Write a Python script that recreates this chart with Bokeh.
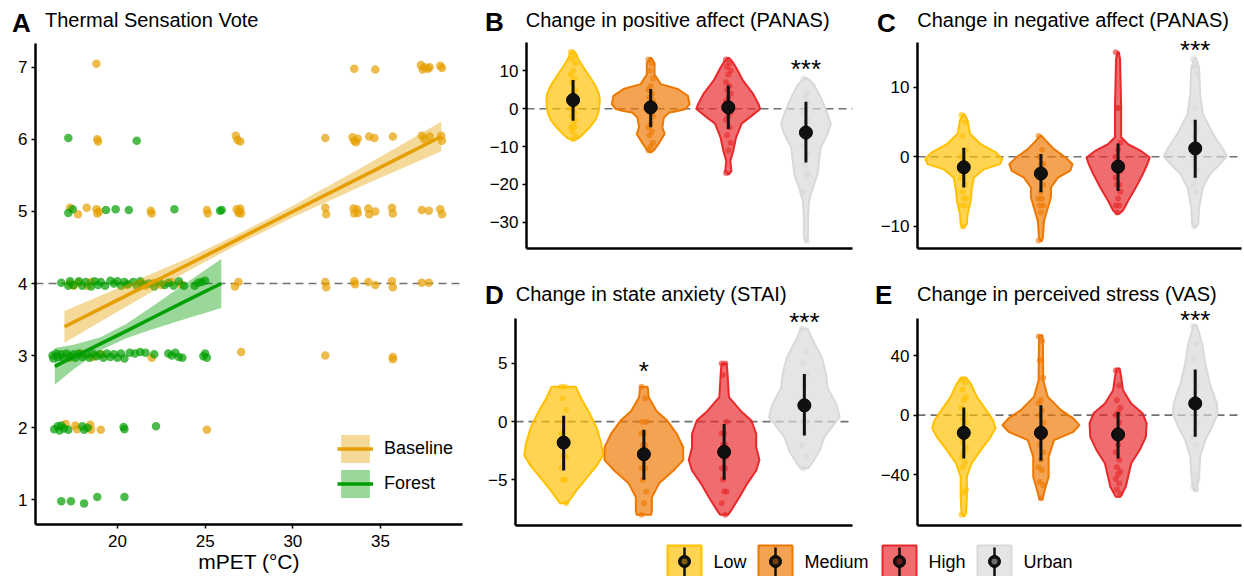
from bokeh.plotting import figure
from bokeh.layouts import row, column
from bokeh.models import Range1d, Span, Label, FixedTicker, Legend, LegendItem, Div
from bokeh.core.properties import value
from bokeh.embed import file_html
from bokeh.resources import INLINE

FONT = "Liberation Sans"

# ---------------- Panel A data ----------------
base_x = [18.8, 33.5, 34.7, 37.3, 37.4, 37.5, 37.7, 37.8, 38.4, 38.5,
          18.85, 18.9, 26.75, 26.85, 27.0, 31.85, 33.4, 33.5, 33.6, 33.7, 34.35, 34.65, 35.7, 37.35, 37.5, 37.8, 38.45, 38.5,
          17.3, 17.75, 18.25, 18.8, 18.85, 18.95, 21.9, 21.95, 25.1, 25.15, 26.8, 26.9, 27.0, 27.05, 26.95, 31.85, 31.9,
          33.45, 33.5, 33.7, 33.65, 34.3, 34.35, 34.7, 35.65, 35.7, 37.35, 37.75, 38.4, 38.5,
          17.3, 17.5, 17.8, 18.3, 18.5, 20.5, 21.3, 21.6, 22.1, 22.5, 23.1, 23.6, 26.7, 26.9, 31.85, 31.9, 33.5, 33.55,
          34.3, 34.7, 35.65, 35.7, 37.35, 37.75,
          17.3, 17.9, 18.6, 19.1, 21.95, 27.05, 31.85, 35.7, 35.7,
          17.05, 17.6, 17.7, 18.45, 18.5, 19.05, 25.1]
base_y = [7.05, 6.98, 6.97, 7.03, 6.97, 7.0, 6.98, 7.0, 7.02, 6.99,
          6.0, 5.97, 6.05, 5.99, 5.97, 6.02, 6.03, 5.98, 5.96, 6.01, 6.04, 6.02, 6.04, 6.05, 6.0, 6.04, 6.05, 5.98,
          5.05, 4.96, 5.05, 5.03, 4.97, 5.0, 5.01, 4.97, 5.02, 4.97, 5.03, 4.98, 5.04, 4.97, 5.0, 5.05, 4.96,
          5.04, 4.97, 4.98, 5.03, 5.04, 4.96, 5.0, 5.05, 4.97, 5.02, 5.01, 5.03, 4.96,
          4.0, 3.97, 4.01, 3.97, 4.02, 3.98, 4.0, 3.97, 4.01, 3.98, 4.02, 3.99, 3.96, 4.02, 4.02, 3.95, 4.03, 3.99,
          4.02, 3.98, 4.03, 3.95, 4.01, 4.01,
          2.97, 3.03, 2.98, 3.02, 2.97, 3.05, 3.0, 2.98, 2.95,
          2.05, 2.03, 1.98, 2.04, 1.97, 1.97, 1.97]

forest_x = [17.2, 21.1,
            17.2, 17.45, 19.35, 19.9, 20.65, 23.25, 25.85, 25.95,
            16.8, 17.2, 17.3, 17.5, 17.8, 18.0, 18.2, 18.5, 18.7, 18.9, 19.05, 19.3, 19.6, 19.8, 20.0, 20.2, 20.4,
            20.6, 20.9, 21.1, 21.3, 21.5, 21.8, 22.1, 22.4, 22.7, 22.9, 23.2, 23.5, 23.8, 24.4, 24.6, 24.8, 25.0,
            16.3, 16.35, 16.5, 16.6, 16.8, 16.9, 17.1, 17.3, 17.5, 17.6, 17.8, 18.0, 18.2, 18.4, 18.6, 18.8, 19.0,
            19.2, 19.4, 19.6, 19.8, 20.0, 20.2, 20.4, 20.7, 21.0, 21.3, 21.6, 22.1, 22.9, 23.1, 23.3, 23.5, 23.7,
            24.9, 25.0, 25.1,
            16.4, 16.6, 16.7, 16.8, 16.95, 17.2, 18.0, 18.1, 18.3, 20.35, 20.4, 22.2,
            16.8, 17.35, 18.1, 18.85, 20.4]
forest_y = [6.02, 5.98,
            4.98, 5.03, 5.02, 5.03, 5.02, 5.03, 5.01, 5.02,
            4.01, 3.97, 4.03, 3.98, 4.03, 3.97, 4.02, 3.96, 4.03, 3.98, 4.02, 3.97, 4.04, 4.0, 4.03, 3.97, 4.02,
            3.99, 4.02, 3.97, 4.03, 3.99, 4.0, 3.96, 4.02, 3.98, 4.01, 3.97, 4.03, 3.97, 3.97, 4.01, 4.02, 4.04,
            3.0, 2.96, 3.03, 2.98, 3.02, 2.97, 3.03, 2.99, 3.02, 2.97, 3.03, 2.98, 3.02, 2.97, 3.03, 2.99, 3.02,
            2.97, 3.03, 2.98, 3.02, 2.97, 3.03, 2.96, 3.04, 3.03, 3.05, 3.04, 3.02, 3.03, 3.0, 3.04, 2.98, 2.97,
            2.99, 3.03, 2.97,
            1.98, 2.02, 1.96, 2.03, 1.99, 1.97, 2.02, 1.97, 2.0, 2.01, 1.98, 2.02,
            0.98, 0.98, 0.95, 1.04, 1.04]

base_fit_x = [16.98, 20.0, 24.0, 27.0, 30.0, 34.0, 38.46]
base_fit_y = [3.40, 3.77, 4.26, 4.63, 5.00, 5.49, 6.04]
base_lo = [3.18, 3.61, 4.17, 4.56, 4.92, 5.36, 5.835]
base_hi = [3.62, 3.93, 4.35, 4.70, 5.08, 5.62, 6.245]

forest_fit_x = [16.43, 17.5, 19.0, 20.5, 22.0, 24.0, 25.92]
forest_fit_y = [2.85, 2.98, 3.16, 3.34, 3.525, 3.77, 4.0]
forest_lo = [2.595, 2.81, 3.07, 3.24, 3.365, 3.52, 3.66]
forest_hi = [3.105, 3.15, 3.25, 3.44, 3.685, 4.02, 4.34]

A_xticks = [20, 25, 30, 35]
A_yticks = [1, 2, 3, 4, 5, 6, 7]

# ---------------- Violin panels data ----------------
groups = ["Low", "Medium", "High", "Urban"]
group_line = ["#FFC000", "#EE7700", "#E8282A", "#D9D9D9"]
group_fill = ["#FFC000", "#EE7700", "#E8282A", "#D9D9D9"]

B_vy = [[15.3, 14.5, 13.0, 11.0, 8.3, 6.0, 3.9, 2.1, 0.0, -1.4, -3.2, -4.9, -6.7, -7.8, -8.3],
        [13.4, 12.0, 9.0, 6.5, 5.2, 3.4, 1.2, -0.1, -0.6, -1.0, -2.3, -4.9, -6.7, -9.3, -10.8, -11.5],
        [13.4, 12.5, 10.9, 7.4, 3.9, 1.2, -0.1, -1.9, -4.0, -7.6, -11.1, -13.8, -16.5, -17.3],
        [8.1, 7.5, 6.5, 3.0, -1.4, -4.0, -6.7, -10.2, -13.8, -17.3, -20.8, -24.3, -28.7, -34.0, -35.1]]
B_vw = [[0.01, 0.04, 0.07, 0.13, 0.22, 0.29, 0.335, 0.344, 0.335, 0.32, 0.28, 0.215, 0.13, 0.07, 0.01],
        [0.01, 0.05, 0.05, 0.13, 0.35, 0.48, 0.50, 0.45, 0.35, 0.24, 0.17, 0.15, 0.18, 0.10, 0.05, 0.01],
        [0.01, 0.05, 0.10, 0.19, 0.32, 0.39, 0.41, 0.30, 0.17, 0.10, 0.064, 0.026, 0.04, 0.01],
        [0.01, 0.05, 0.10, 0.19, 0.28, 0.32, 0.28, 0.19, 0.17, 0.15, 0.09, 0.04, 0.026, 0.026, 0.01]]
B_pts = [[15, 14, 13, 12, 10, 9, 8, 7, 5, 4, 3, 2, 2, 1, 0, 0, -1, -2, -3, -4, -5, -5, -6, -7, -8],
         [13, 12, 10, 8, 6, 5, 4, 3, 2, 1, 0, 0, -1, -2, -4, -5, -6, -7, -9, -10, -11],
         [13, 12, 11, 10, 9, 7, 6, 5, 4, 3, 2, 1, 0, -1, -2, -3, -5, -7, -9, -11, -17],
         [8, 4, 3, 2, 0, -1, -3, -4, -6, -8, -10, -12, -15, -17, -18, -22, -35]]
B_mean = [2.3, 0.35, 0.35, -6.3]
B_lo = [-3.2, -4.9, -5.4, -14.2]
B_hi = [7.6, 5.2, 6.1, 1.85]
B_stars = ["", "", "", "***"]
B_star_y = [0, 0, 0, 11.4]
B_yticks = [-30, -20, -10, 0, 10]

C_vy = [[6.1, 5.2, 3.3, 1.8, 0.6, -0.3, -1.05, -1.8, -3.0, -4.9, -6.3, -8.2, -9.6, -10.1],
        [3.0, 2.3, 1.1, -0.1, -1.05, -2.0, -3.0, -4.4, -5.8, -7.3, -9.2, -11.5, -12.1],
        [15.0, 14.0, 7.1, 2.8, 1.8, 0.9, -0.1, -1.05, -2.5, -4.4, -6.3, -7.7, -8.2],
        [14.2, 12.8, 9.0, 6.1, 3.3, 1.3, 0.1, -1.05, -2.5, -4.4, -7.3, -9.6, -10.1]]
C_vw = [[0.01, 0.05, 0.08, 0.22, 0.42, 0.50, 0.47, 0.26, 0.13, 0.10, 0.09, 0.05, 0.04, 0.01],
        [0.01, 0.064, 0.17, 0.32, 0.41, 0.38, 0.22, 0.13, 0.13, 0.09, 0.04, 0.026, 0.01],
        [0.01, 0.026, 0.04, 0.04, 0.13, 0.29, 0.41, 0.38, 0.32, 0.23, 0.13, 0.064, 0.01],
        [0.01, 0.05, 0.064, 0.10, 0.23, 0.35, 0.41, 0.32, 0.19, 0.10, 0.05, 0.04, 0.01]]
C_pts = [[6, 5, 3, 1, 0, 0, -1, -1, -2, -2, -3, -4, -5, -6, -6, -7, -7, -10],
         [3, 1, 0, -1, -1, -2, -2, -3, -4, -5, -6, -6, -7, -7, -8, -12],
         [15, 7, 7, 2, 1, 0, -1, -1, -2, -2, -3, -4, -4, -5, -6, -7, -7, -8],
         [14, 13, 13, 12, 7, 5, 4, 3, 2, 1, 0, 0, -1, -2, -3, -4, -5, -10]]
C_mean = [-1.5, -2.4, -1.4, 1.2]
C_lo = [-4.4, -5.1, -4.9, -3.0]
C_hi = [1.3, 0.4, 1.9, 5.3]
C_stars = ["", "", "", "***"]
C_star_y = [0, 0, 0, 15.7]
C_yticks = [-10, 0, 10]

D_vy = [[3.0, 2.1, 0.9, -0.5, -1.9, -2.9, -3.8, -4.8, -5.9, -6.6, -7.0],
        [3.0, 2.1, 0.9, 0.1, -1.05, -2.2, -3.3, -4.2, -5.3, -6.5, -7.6, -8.0],
        [5.0, 4.4, 2.1, 0.9, 0.1, -1.05, -2.2, -3.3, -4.2, -5.3, -6.5, -7.6, -8.0],
        [8.0, 7.2, 5.5, 4.1, 2.9, 1.5, 0.4, -0.5, -1.3, -2.5, -3.3, -4.0]]
D_vw = [[0.15, 0.21, 0.31, 0.41, 0.47, 0.49, 0.41, 0.29, 0.16, 0.09, 0.045],
        [0.046, 0.06, 0.16, 0.29, 0.41, 0.49, 0.49, 0.37, 0.19, 0.10, 0.10, 0.09],
        [0.03, 0.04, 0.06, 0.21, 0.34, 0.40, 0.40, 0.44, 0.40, 0.29, 0.19, 0.09, 0.05],
        [0.04, 0.09, 0.22, 0.27, 0.29, 0.40, 0.44, 0.34, 0.25, 0.19, 0.12, 0.05]]
D_pts = [[3, 3, 2, 1, 0, -1, -2, -2, -3, -3, -4, -5, -5, -7],
         [3, 2, 0, 0, -1, -1, -2, -2, -3, -3, -4, -4, -5, -6, -7, -8],
         [5, 5, 4, 0, -1, -1, -2, -2, -3, -3, -4, -4, -5, -6, -6, -7, -8],
         [8, 6, 5, 4, 3, 2, 1, 0, 0, -1, -2, -3, -4]]
D_mean = [-1.8, -2.8, -2.6, 1.4]
D_lo = [-4.2, -5.0, -5.0, -1.2]
D_hi = [0.5, -0.7, -0.2, 4.1]
D_stars = ["", "*", "", "***"]
D_star_y = [0, 4.65, 0, 8.8]
D_yticks = [-5, 0, 5]

E_vy = [[25.3, 21.3, 12.3, 3.4, -3.4, -8.9, -14.6, -23.5, -32.5, -41.5, -54.9, -66.0, -67.9],
        [53.8, 48.0, 23.5, 12.3, 3.4, -2.2, -6.7, -11.2, -16.8, -28.0, -41.5, -50.4, -56.7],
        [31.4, 25.8, 16.8, 7.9, 1.1, -5.6, -14.6, -23.5, -32.5, -41.5, -48.2, -54.9],
        [60.5, 48.2, 34.8, 21.3, 7.9, 1.1, -7.9, -16.8, -28.0, -41.5, -50.9]]
E_vw = [[0.03, 0.09, 0.17, 0.29, 0.38, 0.41, 0.35, 0.22, 0.10, 0.04, 0.04, 0.03, 0.01],
        [0.02, 0.026, 0.03, 0.09, 0.26, 0.42, 0.50, 0.42, 0.17, 0.10, 0.10, 0.05, 0.02],
        [0.02, 0.04, 0.064, 0.17, 0.32, 0.37, 0.36, 0.28, 0.17, 0.13, 0.10, 0.03],
        [0.02, 0.09, 0.13, 0.19, 0.28, 0.29, 0.22, 0.13, 0.064, 0.05, 0.02]]
E_pts = [[24, 22, 17, 12, 10, 5, 0, -3, -5, -10, -12, -15, -18, -22, -25, -28, -32, -35, -50, -52, -67],
         [53, 50, 37, 25, 10, 8, 3, 0, -5, -8, -12, -15, -20, -25, -30, -35, -37, -45, -47, -56],
         [30, 20, 10, 5, 2, 0, -5, -10, -15, -20, -25, -30, -35, -38, -40, -43, -46, -50, -53],
         [60, 48, 38, 20, 15, 10, 5, 0, -5, -10, -15, -20, -40, -43, -45, -48, -50]]
E_mean = [-11.9, -11.9, -13.0, 7.9]
E_lo = [-29.1, -30.7, -29.1, -14.6]
E_hi = [5.2, 6.7, 2.2, 30.7]
E_stars = ["", "", "", "***"]
E_star_y = [0, 0, 0, 66.1]
E_yticks = [-40, 0, 40]


def fmt(t):
    return str(t).replace("-", "\u2212")


def base_fig(width, height, xr, yr, ml, mr, mt, mb, ext=0.0):
    y0, y1 = yr
    p = figure(width=width, height=height, x_range=Range1d(*xr), y_range=Range1d(y0, y1 + ext),
               toolbar_location=None, output_backend="svg",
               min_border_left=ml, min_border_right=mr, min_border_top=mt, min_border_bottom=mb)
    p.xgrid.visible = False
    p.ygrid.visible = False
    p.outline_line_color = None
    p.yaxis.bounds = (y0, y1)
    for ax in [p.xaxis[0], p.yaxis[0]]:
        ax.axis_line_width = 2.5
        ax.axis_line_color = "black"
        ax.major_tick_line_width = 1.5
        ax.major_tick_line_color = "black"
        ax.major_tick_out = 4
        ax.major_tick_in = 0
        ax.minor_tick_line_color = None
        ax.major_label_text_font = FONT
        ax.major_label_text_font_size = "17px"
        ax.major_label_text_color = "black"
        ax.major_label_standoff = 4
    return p


def title_div(width, height, letter, text, lx, ly, tx, ty):
    html = (
        f'<div style="position:relative;width:{width}px;height:{height}px;">'
        f'<span style="position:absolute;left:{lx}px;top:{ly}px;font-family:\'{FONT}\';'
        f'font-weight:bold;font-size:26px;line-height:26px;color:#000;white-space:nowrap;">{letter}</span>'
        f'<span style="position:absolute;left:{tx}px;top:{ty}px;font-family:\'{FONT}\';'
        f'font-size:20px;line-height:20px;color:#000;white-space:nowrap;">{text}</span>'
        f'</div>'
    )
    return Div(text=html, width=width, height=height, margin=0)


def violin_panel(p, vy, vw, pts, mean, lo, hi, stars, star_y, yticks):
    p.xaxis.ticker = FixedTicker(ticks=[])
    p.yaxis.ticker = FixedTicker(ticks=yticks)
    p.yaxis.major_label_overrides = {t: fmt(t) for t in yticks}
    p.add_layout(Span(location=0, dimension="width", line_color="#707070", line_dash="8 5",
                      line_width=1.6, level="underlay"))
    cats = [i + 1 for i in range(len(groups))]
    xs, ys = [], []
    for c, yy, ww in zip(cats, vy, vw):
        xs.append([c + w for w in ww] + [c - w for w in ww[::-1]])
        ys.append(list(yy) + list(yy[::-1]))
    p.patches(xs=xs, ys=ys, fill_color=group_fill, fill_alpha=0.68,
              line_color=group_line, line_width=2)
    for c, vals, col in zip(cats, pts, group_line):
        jx = [c + (((k * 3) % 5) - 2) * 0.015 for k in range(len(vals))]
        p.scatter(jx, vals, size=6, fill_color=col, fill_alpha=0.6, line_color=None)
    p.segment(x0=cats, y0=lo, x1=cats, y1=hi, line_color="#111111", line_width=3)
    p.scatter(cats, mean, size=13, fill_color="#111111", line_color="#000000", line_width=1)
    for c, s, sy in zip(cats, stars, star_y):
        if s:
            p.add_layout(Label(x=c, y=sy, y_offset=-3, text=s, text_font=FONT,
                               text_font_size="26px", text_color="black",
                               text_align="center", text_baseline="alphabetic"))


# ---------------- Panel A ----------------
WA = 484
HA_DIV = 43
HA = 533
pA = base_fig(WA, HA, (15.33, 39.67), (0.657, 7.33), 35, 22, 0, 52)
pA.xaxis.ticker = FixedTicker(ticks=A_xticks)
pA.yaxis.ticker = FixedTicker(ticks=A_yticks)
pA.xaxis.axis_label = "mPET (\u00b0C)"
pA.xaxis.axis_label_text_font = FONT
pA.xaxis.axis_label_text_font_size = "21px"
pA.xaxis.axis_label_text_font_style = "normal"
pA.xaxis.axis_label_text_color = "black"
pA.xaxis.axis_label_standoff = 0
pA.xaxis.major_label_standoff = 6
pA.add_layout(Span(location=4, dimension="width", line_color="#707070", line_dash="8 5",
                   line_width=1.6, level="underlay"))

BASE = "#E69F00"
FOREST = "#009E00"
pA.scatter(base_x, base_y, size=8.5, fill_color=BASE, fill_alpha=0.7, line_color=None)
pA.scatter(forest_x, forest_y, size=8.5, fill_color=FOREST, fill_alpha=0.7, line_color=None)
band_b = pA.varea(x=base_fit_x, y1=base_lo, y2=base_hi, fill_color=BASE, fill_alpha=0.4)
band_f = pA.varea(x=forest_fit_x, y1=forest_lo, y2=forest_hi, fill_color=FOREST, fill_alpha=0.4)
line_b = pA.line(base_fit_x, base_fit_y, line_color=BASE, line_width=3.5)
line_f = pA.line(forest_fit_x, forest_fit_y, line_color=FOREST, line_width=3.5)
legA = Legend(items=[LegendItem(label="Baseline", renderers=[band_b, line_b]),
                     LegendItem(label="Forest", renderers=[band_f, line_f])],
              location=(302, 23), glyph_width=36, glyph_height=35, padding=0, margin=0,
              spacing=0, label_standoff=11, border_line_alpha=0, background_fill_alpha=0,
              label_text_font=FONT, label_text_font_size="18px", label_text_color="black")
pA.add_layout(legA)
divA = title_div(WA, HA_DIV, "A", "Thermal Sensation Vote", 12, 9.7, 45, 10.4)

# ---------------- Panels B-E ----------------
XR = (0.4, 4.6)
WB, WC = 384, 374
EXT_BC = 8
EXT_DE = 13


def ext(yr, frame_px, px):
    return (yr[1] - yr[0]) * px / frame_px


B_yr = (-36.96, 17.5)
C_yr = (-13.16, 16.4)
D_yr = (-8.92, 8.86)
E_yr = (-74.3, 65.1)
FR1, FR2 = 206, 207     # data frame heights (px) of the two rows

pB = base_fig(WB, 236 + EXT_BC, XR, B_yr, 42, 16, 0, 30, ext(B_yr, FR1, EXT_BC))
violin_panel(pB, B_vy, B_vw, B_pts, B_mean, B_lo, B_hi, B_stars, B_star_y, B_yticks)
divB = title_div(WB, 42 - EXT_BC, "B", "Change in positive affect (PANAS)", 1, 8.7, 41.7, 9.8)

pC = base_fig(WC, 236 + EXT_BC, XR, C_yr, 49, 1, 0, 30, ext(C_yr, FR1, EXT_BC))
violin_panel(pC, C_vy, C_vw, C_pts, C_mean, C_lo, C_hi, C_stars, C_star_y, C_yticks)
divC = title_div(WC, 42 - EXT_BC, "C", "Change in negative affect (PANAS)", 9, 9.5, 49.3, 9.8)

pD = base_fig(WB, FR2 + 12 + EXT_DE, XR, D_yr, 31, 16, 0, 12, ext(D_yr, FR2, EXT_DE))
violin_panel(pD, D_vy, D_vw, D_pts, D_mean, D_lo, D_hi, D_stars, D_star_y, D_yticks)
divD = title_div(WB, 40 - EXT_DE, "D", "Change in state anxiety (STAI)", 1, 4, 31.7, 6)

pE = base_fig(WC, FR2 + 12 + EXT_DE, XR, E_yr, 49, 1, 0, 12, ext(E_yr, FR2, EXT_DE))
violin_panel(pE, E_vy, E_vw, E_pts, E_mean, E_lo, E_hi, E_stars, E_star_y, E_yticks)
divE = title_div(WC, 40 - EXT_DE, "E", "Change in perceived stress (VAS)", 7, 4, 49, 6)

# ---------------- Bottom legend ----------------
LW, LH = WB + WC, 39
pL = figure(width=LW, height=LH, x_range=Range1d(0, LW), y_range=Range1d(LH, 0),
            toolbar_location=None, output_backend="svg", min_border=0,
            x_axis_type=None, y_axis_type=None)
pL.xgrid.visible = False
pL.ygrid.visible = False
pL.outline_line_color = None
key_left = [183, 274, 398, 493]
key_size = 34
key_top = 8
kx = [k + key_size / 2 for k in key_left]
ky = key_top + 16
pL.quad(left=key_left, right=[k + key_size for k in key_left], top=key_top, bottom=key_top + key_size,
        fill_color=group_fill, fill_alpha=0.68, line_color=group_line, line_width=2)
pL.segment(x0=kx, y0=key_top + 2, x1=kx, y1=key_top + key_size, line_color="#111111", line_width=2.5)
pL.scatter(kx, [ky] * 4, size=12, fill_color="#111111", line_color="#000000")
pL.scatter(kx, [ky] * 4, size=6, fill_color=group_line, fill_alpha=0.45, line_color=None)
pL.text(x=[k + key_size + 12 for k in key_left], y=[ky] * 4, text=groups,
        text_font=value(FONT), text_font_size="18px", text_baseline="middle", text_align="left",
        text_color="black")

layout = row(column(divA, pA),
             column(row(column(divB, pB), column(divC, pC)),
                    row(column(divD, pD), column(divE, pE)),
                    pL))
open("out.html", "w").write(file_html(layout, INLINE))
